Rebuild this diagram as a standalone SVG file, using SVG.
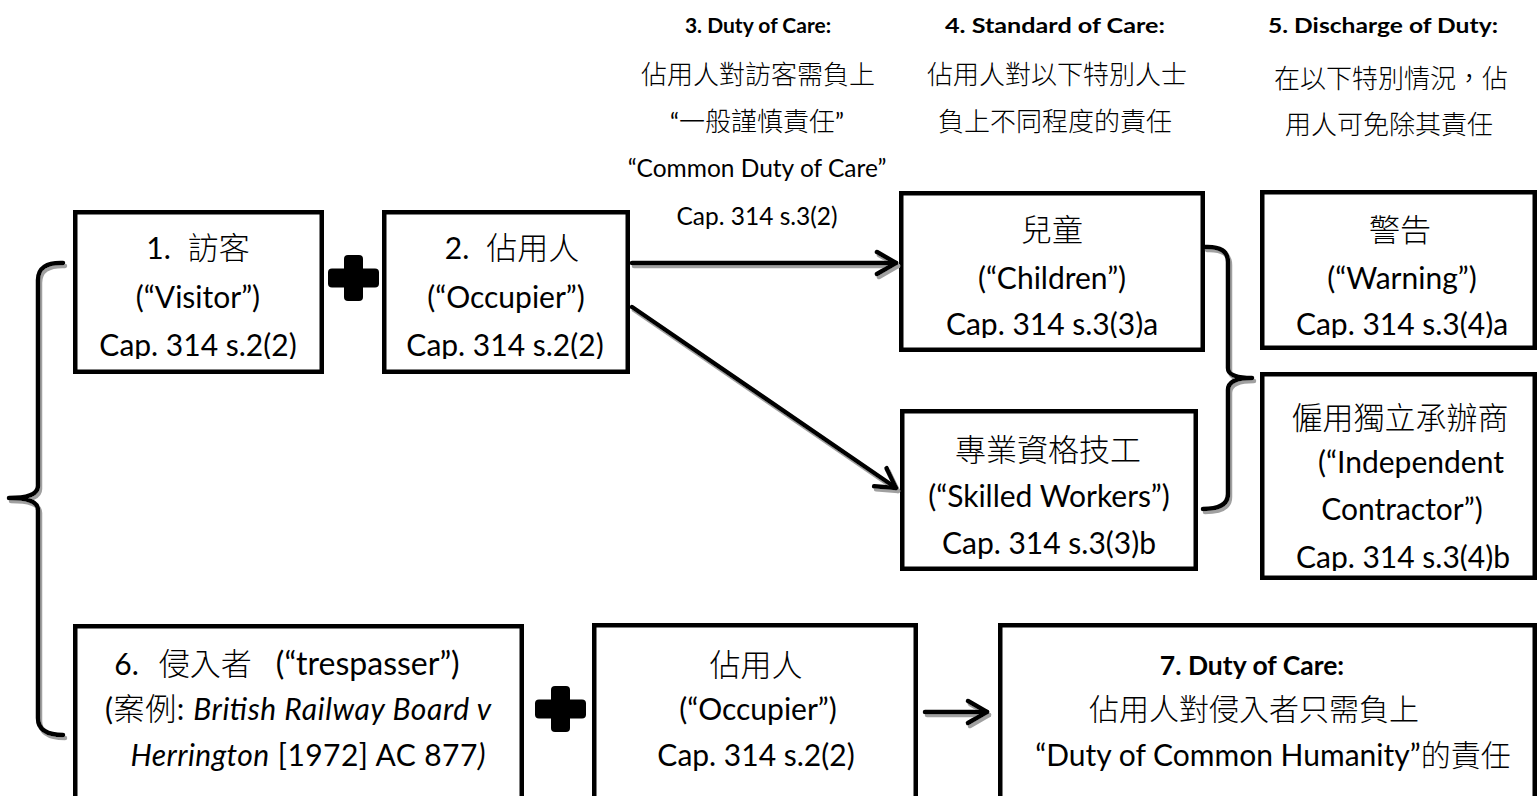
<svg xmlns="http://www.w3.org/2000/svg" width="1539" height="796" viewBox="0 0 1539 796">
<defs>
<style>
.box{fill:#fff;stroke:#000;stroke-width:4.5}
.t{font-family:Lato,"Noto Sans CJK TC",sans-serif;font-size:30px;fill:#000;text-anchor:middle}
.c{font-family:"Noto Sans CJK TC",sans-serif;font-size:31px;font-weight:300}
.c30{font-family:"Noto Sans CJK TC",sans-serif;font-size:30px;font-weight:300}
.hd{font-size:24.5px}
.hb{font-size:21px;font-weight:700}
.bb{font-size:26.5px;font-weight:700}
.hc{font-family:"Noto Sans CJK TC",sans-serif;font-size:26px;font-weight:300}
.i{font-style:italic}
.conn{fill:none;stroke:#000;stroke-width:4.5;stroke-linecap:round;stroke-linejoin:round}
.plus{fill:#000}
</style>
<filter id="shadow" filterUnits="userSpaceOnUse" x="0" y="0" width="1539" height="796">
<feOffset in="SourceAlpha" dx="2" dy="3" result="off"/>
<feFlood flood-color="#a0a0a0"/>
<feComposite in2="off" operator="in" result="sh"/>
<feMerge><feMergeNode in="sh"/><feMergeNode in="SourceGraphic"/></feMerge>
</filter>
<marker id="arr" markerUnits="userSpaceOnUse" viewBox="0 0 30 30" markerWidth="30" markerHeight="30" refX="25" refY="15" orient="auto">
<path d="M6,4 L25,15 L6,26" fill="none" stroke="#000" stroke-width="4.5" stroke-linecap="round" stroke-linejoin="round"/>
</marker>
<g id="plusShape">
<rect x="-25.5" y="-9.5" width="51" height="19" rx="4"/>
<rect x="-9.5" y="-23" width="19" height="46" rx="4"/>
</g>
<clipPath id="cp1"><rect x="75" y="212" width="247" height="147"/></clipPath>
<clipPath id="cp2"><rect x="384" y="212" width="244" height="147"/></clipPath>
<clipPath id="cp3"><rect x="901" y="193" width="302" height="145"/></clipPath>
<clipPath id="cp5"><rect x="1262" y="192" width="273" height="146"/></clipPath>
<clipPath id="cp6"><rect x="1262" y="374" width="273" height="197"/></clipPath>
</defs>
<rect width="1539" height="796" fill="#fff"/>

<g id="header3">
<text class="t hb" x="758" y="33">3. Duty of Care:</text>
<text class="t hc" x="758" y="84">佔用人對訪客需負上</text>
<text class="t hd" x="757" y="131">“<tspan class="hc">一般謹慎責任</tspan>”</text>
<text class="t hd" x="757" y="177">“Common Duty of Care”</text>
<text class="t hd" x="757" y="225">Cap. 314 s.3(2)</text>
</g>
<g id="header4">
<text class="t hb" x="1055" y="33" textLength="220" lengthAdjust="spacingAndGlyphs">4. Standard of Care:</text>
<text class="t hc" x="1057" y="84">佔用人對以下特別人士</text>
<text class="t hc" x="1055" y="131">負上不同程度的責任</text>
</g>
<g id="header5">
<text class="t hb" x="1383" y="33" textLength="230" lengthAdjust="spacingAndGlyphs">5. Discharge of Duty:</text>
<text class="t hc" x="1391" y="88">在以下特別情況，佔</text>
<text class="t hc" x="1389" y="134">用人可免除其責任</text>
</g>

<g id="node1">
<rect class="box" x="75.25" y="212.25" width="246.5" height="159.5"/>
<g clip-path="url(#cp1)">
<text class="t" x="198" y="259">1.<tspan class="c" dx="17">訪客</tspan></text>
<text class="t" x="198" y="308">(“Visitor”)</text>
<text class="t" x="198" y="356">Cap. 314 s.2(2)</text>
</g>
</g>
<g id="plus1" class="plus"><use href="#plusShape" transform="translate(353.5,278)"/></g>
<g id="node2">
<rect class="box" x="384.25" y="212.25" width="243.5" height="159.5"/>
<g clip-path="url(#cp2)">
<text class="t" x="512" y="259">2.<tspan class="c" dx="17">佔用人</tspan></text>
<text class="t" x="506" y="308">(“Occupier”)</text>
<text class="t" x="505" y="356">Cap. 314 s.2(2)</text>
</g>
</g>
<g id="node3">
<rect class="box" x="901.25" y="193.25" width="301.5" height="156.5"/>
<g clip-path="url(#cp3)">
<text class="t c" x="1052" y="241">兒童</text>
<text class="t" x="1052" y="289">(“Children”)</text>
<text class="t" x="1052" y="335">Cap. 314 s.3(3)a</text>
</g>
</g>
<g id="node4">
<rect class="box" x="902.25" y="411.25" width="293.5" height="157.5"/>
<text class="t c" x="1048" y="461">專業資格技工</text>
<text class="t" x="1049" y="507">(“Skilled Workers”)</text>
<text class="t" x="1049" y="554">Cap. 314 s.3(3)b</text>
</g>
<g id="node5">
<rect class="box" x="1262.25" y="192.25" width="272.5" height="155.5"/>
<g clip-path="url(#cp5)">
<text class="t c" x="1400" y="241">警告</text>
<text class="t" x="1402" y="289">(“Warning”)</text>
<text class="t" x="1402" y="335">Cap. 314 s.3(4)a</text>
</g>
</g>
<g id="node6">
<rect class="box" x="1262.25" y="374.25" width="272.5" height="203.5"/>
<g clip-path="url(#cp6)">
<text class="t c" x="1400" y="429">僱用獨立承辦商</text>
<text class="t" x="1411" y="473">(“Independent</text>
<text class="t" x="1402" y="520">Contractor”)</text>
<text class="t" x="1403" y="568">Cap. 314 s.3(4)b</text>
</g>
</g>
<g id="node7">
<rect class="box" x="75.25" y="626.25" width="446.5" height="200"/>
<text class="t" x="287" y="675">6.<tspan class="c" dx="20">侵入者</tspan><tspan dx="24" font-size="32">(“trespasser”)</tspan></text>
<text class="t" x="298" y="720" textLength="386" lengthAdjust="spacing">(<tspan class="c">案例</tspan>: <tspan class="i">British Railway Board v</tspan></text>
<text class="t" x="308" y="766" textLength="355" lengthAdjust="spacing"><tspan class="i">Herrington</tspan> [1972] AC 877<tspan class="i">)</tspan></text>
</g>
<g id="plus2" class="plus"><use href="#plusShape" transform="translate(560.5,709)"/></g>
<g id="node8">
<rect class="box" x="594.25" y="625.25" width="321.5" height="200"/>
<text class="t c" x="756" y="676">佔用人</text>
<text class="t" x="758" y="720">(“Occupier”)</text>
<text class="t" x="756" y="766">Cap. 314 s.2(2)</text>
</g>
<g id="node9">
<rect class="box" x="1000.25" y="625.25" width="534.5" height="200"/>
<text class="t bb" x="1252" y="675">7. Duty of Care:</text>
<text class="t c30" x="1254" y="720">佔用人對侵入者只需負上</text>
<text class="t" x="1273" y="766">“Duty of Common Humanity”<tspan class="c30">的責任</tspan></text>
</g>

<g id="connectors" class="conn" filter="url(#shadow)">
<path d="M632,263 L896,263" marker-end="url(#arr)"/>
<path d="M632,307 L896,488" marker-end="url(#arr)"/>
<path d="M925,712 L987,712" marker-end="url(#arr)"/>
<path d="M63,263 Q38,262 38,280 L38,486 Q38,498 9,498 Q38,498 38,510 L38,718 Q38,735 63,735"/>
<path d="M1205,247 Q1228,246 1228,262 L1228,368 Q1228,378 1252,378 Q1228,378 1228,390 L1228,494 Q1228,509 1203,509"/>
</g>
</svg>
